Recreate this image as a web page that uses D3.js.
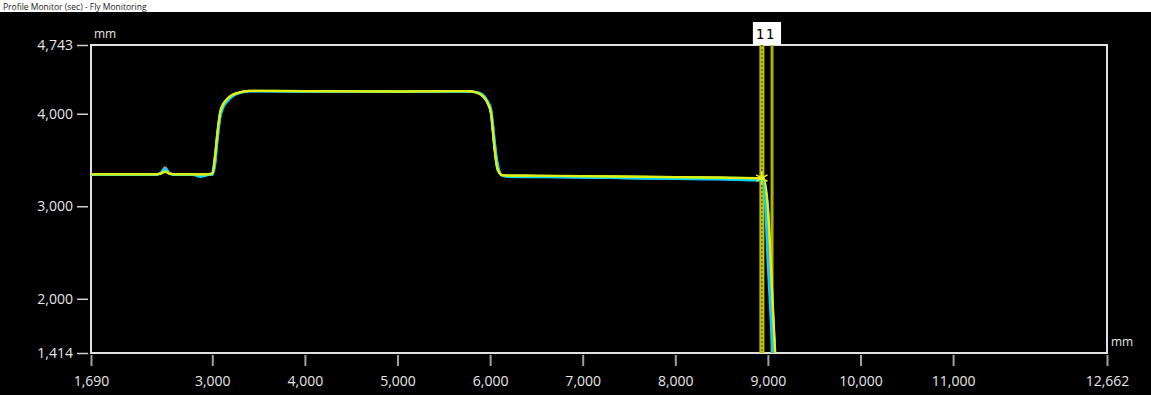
<!DOCTYPE html>
<html>
<head>
<meta charset="utf-8">
<script src="https://cdn.jsdelivr.net/npm/d3@7"></script>
<style>
  body { margin: 0; background: #fff; }
  svg { display: block; }
</style>
</head>
<body>
<script>
// profile positions (mm) shared by every scan
const xs = [1690, 2380, 2440, 2490, 2540, 2600, 2800, 2870, 2960, 3000, 3030, 3055, 3085, 3120, 3160, 3210, 3270, 3330, 3400,
  4000, 4500, 5000, 5500, 5750, 5850, 5920, 5970, 6010, 6030, 6050, 6075, 6100, 6130, 6200, 6500,
  7000, 7500, 8000, 8500, 8900, 8950, 9000, 9050, 9100];

const orangeVals = [3345, 3345, 3360, 3420, 3360, 3345, 3345, 3340, 3345, 3350, 3500, 3760, 4000, 4100, 4160, 4200, 4225, 4238, 4246,
  4244, 4242, 4240, 4244, 4244, 4232, 4195, 4125, 4010, 3820, 3620, 3430, 3365, 3338, 3332, 3328,
  3322, 3318, 3312, 3306, 3300, 3298, 2900, 1900, 900];
const purpleVals = [3342, 3342, 3355, 3405, 3355, 3342, 3340, 3325, 3340, 3342, 3460, 3720, 3970, 4085, 4140, 4185, 4218, 4234, 4244,
  4242, 4240, 4238, 4242, 4242, 4234, 4205, 4138, 4045, 3890, 3690, 3480, 3375, 3332, 3322, 3318,
  3312, 3305, 3298, 3292, 3285, 3284, 2650, 1650, 650];
const cyanVals = [3340, 3340, 3355, 3410, 3350, 3340, 3338, 3318, 3338, 3340, 3450, 3700, 3950, 4070, 4130, 4180, 4215, 4232, 4242,
  4240, 4238, 4236, 4240, 4240, 4234, 4208, 4142, 4052, 3900, 3700, 3500, 3380, 3330, 3318, 3315,
  3310, 3302, 3295, 3290, 3280, 3280, 2350, 1400, 450];
const greenVals = [3346, 3346, 3352, 3380, 3352, 3346, 3346, 3344, 3346, 3355, 3540, 3790, 4015, 4105, 4158, 4198, 4224, 4239, 4247,
  4245, 4243, 4241, 4245, 4245, 4231, 4192, 4122, 4003, 3805, 3605, 3422, 3362, 3336, 3332, 3330,
  3325, 3320, 3315, 3310, 3305, 3304, 2950, 1950, 950];
const yellowVals = [3345, 3345, 3350, 3372, 3350, 3345, 3345, 3344, 3345, 3360, 3560, 3800, 4020, 4110, 4160, 4200, 4225, 4240, 4248,
  4245, 4242, 4240, 4245, 4245, 4230, 4190, 4120, 4000, 3800, 3600, 3420, 3360, 3335, 3332, 3330,
  3325, 3320, 3315, 3310, 3305, 3305, 3000, 2000, 1000];

const seriesColors = ["#ff7a50", "#8a80ff", "#00d4ff", "#80ff40", "#e2ee10"];
const seriesVals = [orangeVals, purpleVals, cyanVals, greenVals, yellowVals];

const xTicks = [1690, 3000, 4000, 5000, 6000, 7000, 8000, 9000, 10000, 11000, 12662];
const yTicks = [1414, 2000, 3000, 4000, 4743];
const xDomain = [1690, 12662];
const yDomain = [1414, 4743];

const cursorXs = [8935, 9045];
const cursorLabels = ["1", "1"];
const markerPoint = [8935, 3305];

const title = "Profile Monitor (sec) - Fly Monitoring";

const width = 1151, height = 395;
const margin = { top: 45, right: 44, bottom: 42, left: 91 };

const svg = d3.select("body").append("svg")
  .attr("width", width)
  .attr("height", height);

svg.append("rect").attr("width", width).attr("height", 12).attr("fill", "#fff");
svg.append("rect").attr("y", 12).attr("width", width).attr("height", height - 12).attr("fill", "#000");

svg.append("text")
  .attr("x", 3).attr("y", 10)
  .attr("font-family", "Open Sans, sans-serif")
  .attr("font-size", 8.5)
  .attr("fill", "#222")
  .text(title);

const x = d3.scaleLinear().domain(xDomain).range([margin.left, width - margin.right]);
const y = d3.scaleLinear().domain(yDomain).range([height - margin.bottom, margin.top]);

svg.append("defs").append("clipPath").attr("id", "plotClip")
  .append("rect")
  .attr("x", margin.left).attr("y", margin.top)
  .attr("width", width - margin.left - margin.right)
  .attr("height", height - margin.top - margin.bottom);

// axes
let xAxis = svg.append("g")
  .attr("transform", `translate(0,${height - margin.bottom})`)
  .call(d3.axisBottom(x).tickValues(xTicks).tickFormat(d3.format(",")).tickSize(13).tickPadding(10));
xAxis.select(".domain").remove();
xAxis.selectAll(".tick line").attr("stroke", "#a0a0a0").attr("stroke-width", 2).attr("y1", 2);
xAxis.selectAll(".tick text")
  .attr("fill", "#e6e6e6")
  .attr("font-family", "Open Sans, sans-serif")
  .attr("font-size", 14);

let yAxis = svg.append("g")
  .attr("transform", `translate(${margin.left},0)`)
  .call(d3.axisLeft(y).tickValues(yTicks).tickFormat(d3.format(",")).tickSize(14).tickPadding(4));
yAxis.select(".domain").remove();
yAxis.selectAll(".tick line").attr("stroke", "#d0d0d0").attr("stroke-width", 1.5).attr("x2", -3).attr("x1", -14);
yAxis.selectAll(".tick text")
  .attr("fill", "#e6e6e6")
  .attr("font-family", "Open Sans, sans-serif")
  .attr("font-size", 14);

svg.append("rect")
  .attr("x", margin.left).attr("y", margin.top)
  .attr("width", width - margin.left - margin.right)
  .attr("height", height - margin.top - margin.bottom)
  .attr("fill", "none")
  .attr("stroke", "#e0e0e0")
  .attr("stroke-width", 2);

svg.append("text")
  .attr("x", margin.left + 3).attr("y", margin.top - 7)
  .attr("fill", "#e6e6e6").attr("font-family", "Open Sans, sans-serif").attr("font-size", 12)
  .text("mm");
svg.append("text")
  .attr("x", width - margin.right + 4).attr("y", height - margin.bottom - 7)
  .attr("fill", "#e6e6e6").attr("font-family", "Open Sans, sans-serif").attr("font-size", 12)
  .text("mm");

// cursors
const plot = svg.append("g").attr("clip-path", "url(#plotClip)");

plot.append("line")
  .attr("x1", x(cursorXs[0])).attr("x2", x(cursorXs[0]))
  .attr("y1", margin.top).attr("y2", height - margin.bottom)
  .attr("stroke", "#c4c400").attr("stroke-width", 5);
plot.append("line")
  .attr("x1", x(cursorXs[0])).attr("x2", x(cursorXs[0]))
  .attr("y1", margin.top).attr("y2", height - margin.bottom)
  .attr("stroke", "#4a4a00").attr("stroke-width", 1.2).attr("stroke-dasharray", "2,2");
plot.append("line")
  .attr("x1", x(cursorXs[1])).attr("x2", x(cursorXs[1]))
  .attr("y1", margin.top).attr("y2", height - margin.bottom)
  .attr("stroke", "#b0b000").attr("stroke-width", 3);

// profile lines
const line = d3.line()
  .x((d, i) => x(xs[i]))
  .y(d => y(d))
  .curve(d3.curveMonotoneX);

plot.selectAll(".profile")
  .data(seriesVals)
  .join("path")
  .attr("class", "profile")
  .attr("d", line)
  .attr("fill", "none")
  .attr("stroke", (d, i) => seriesColors[i])
  .attr("stroke-width", 2.2);

// marker
svg.append("path")
  .attr("transform", `translate(${x(markerPoint[0])},${y(markerPoint[1])})`)
  .attr("d", d3.symbol(d3.symbolAsterisk, 120)())
  .attr("fill", "none")
  .attr("stroke", "#f0f020")
  .attr("stroke-width", 1.5);

// cursor label box
const boxX0 = x(cursorXs[0]) - 9, boxX1 = x(cursorXs[1]) + 9;
svg.append("rect")
  .attr("x", boxX0).attr("y", 22)
  .attr("width", boxX1 - boxX0).attr("height", margin.top - 22)
  .attr("fill", "#fff");
svg.selectAll(".cursorLabel")
  .data(cursorXs)
  .join("text")
  .attr("x", d => x(d) - 2)
  .attr("y", 39)
  .attr("text-anchor", "middle")
  .attr("font-family", "DejaVu Sans Mono, monospace")
  .attr("font-size", 14)
  .attr("fill", "#000")
  .text((d, i) => cursorLabels[i]);
</script>
</body>
</html>
